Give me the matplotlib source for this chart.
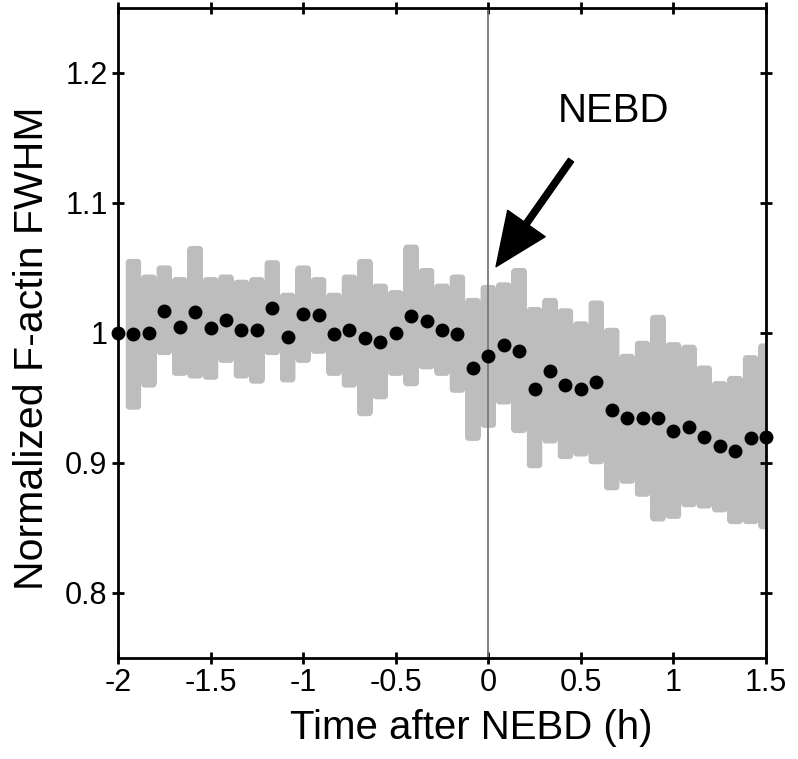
import numpy as np
import matplotlib.pyplot as plt
from matplotlib.patches import Polygon

plt.rcParams['font.family'] = ['Liberation Sans', 'DejaVu Sans']

# time after NEBD (h), one frame every 5 min
time_h = np.arange(43) / 12.0 - 2.0

fwhm_mean = [1.000, 0.999, 1.000, 1.017, 1.005, 1.016, 1.004, 1.010, 1.002, 1.002,
             1.019, 0.997, 1.015, 1.014, 0.999, 1.002, 0.996, 0.993, 1.000, 1.013,
             1.009, 1.002, 0.999, 0.973, 0.982, 0.991, 0.986, 0.957, 0.971, 0.960,
             0.957, 0.962, 0.941, 0.935, 0.935, 0.935, 0.925, 0.928, 0.920, 0.913,
             0.909, 0.919, 0.920]

fwhm_upper = [1.000, 1.057, 1.045, 1.052, 1.043, 1.067, 1.043, 1.045, 1.041, 1.043,
              1.056, 1.031, 1.052, 1.043, 1.031, 1.045, 1.057, 1.038, 1.033, 1.068,
              1.050, 1.038, 1.045, 1.027, 1.037, 1.039, 1.050, 1.020, 1.027, 1.019,
              1.009, 1.025, 1.004, 0.984, 0.994, 1.014, 0.993, 0.991, 0.975, 0.963,
              0.967, 0.983, 0.992]

fwhm_lower = [1.000, 0.941, 0.958, 0.983, 0.967, 0.965, 0.964, 0.977, 0.965, 0.961,
              0.983, 0.962, 0.977, 0.984, 0.967, 0.958, 0.936, 0.949, 0.967, 0.959,
              0.972, 0.967, 0.954, 0.917, 0.927, 0.945, 0.923, 0.896, 0.915, 0.903,
              0.905, 0.899, 0.879, 0.884, 0.874, 0.855, 0.857, 0.866, 0.865, 0.862,
              0.853, 0.853, 0.849]

xticks = [-2, -1.5, -1, -0.5, 0, 0.5, 1, 1.5]
xticklabels = ['-2', '-1.5', '-1', '-0.5', '0', '0.5', '1', '1.5']
yticks = [0.8, 0.9, 1.0, 1.1, 1.2]
yticklabels = ['0.8', '0.9', '1', '1.1', '1.2']


def rounded_box(x0, x1, y0, y1, rx, ry, n=6):
    """Rectangle with elliptical corners, in data units"""
    a = np.linspace(0, np.pi / 2, n)
    corners = [(x1 - rx, y1 - ry, 0.0), (x0 + rx, y1 - ry, 0.5 * np.pi),
               (x0 + rx, y0 + ry, np.pi), (x1 - rx, y0 + ry, 1.5 * np.pi)]
    pts = []
    for cx, cy, start in corners:
        for t in a + start:
            pts.append((cx + rx * np.cos(t), cy + ry * np.sin(t)))
    return np.array(pts)


fig = plt.figure(figsize=(7.98, 7.59), dpi=100)
ax = fig.add_axes([118 / 798, 101 / 759, 648 / 798, 650 / 759])
ax.set_xlim(-2, 1.5)
ax.set_ylim(0.75, 1.25)

# grey spread, one bar per frame with slightly rounded ends
step = time_h[1] - time_h[0]
p0, p1 = ax.transData.transform([(0.0, 0.0), (1.0, 1.0)])
px_x, px_y = p1 - p0
rx, ry = 3.5 / px_x, 3.5 / px_y
lo = np.array(fwhm_lower)
hi = np.array(fwhm_upper)
ax.bar(time_h, np.clip(hi - lo - 2 * ry, 0, None), bottom=lo + ry, width=step,
       color='#bdbdbd', linewidth=0, zorder=1)
for t, l, h in zip(time_h, lo, hi):
    if h - l <= 2 * ry:
        continue
    ax.add_patch(Polygon(rounded_box(t - step / 2, t + step / 2, l, h, rx, ry),
                         closed=True, facecolor='#bdbdbd', edgecolor='none',
                         linewidth=0, zorder=1))

ax.axvline(0, color='#7a7a7a', linewidth=1.3, zorder=2)
ax.plot(time_h, fwhm_mean, 'o', color='black', markersize=9, zorder=3, clip_on=False)

ax.annotate('', xy=(0.042, 1.051), xytext=(0.447, 1.133),
            arrowprops=dict(facecolor='black', edgecolor='black',
                            width=4.5, headwidth=33, headlength=38, shrink=0))
ax.text(0.679, 1.171, 'NEBD', fontsize=29, ha='center', va='center')

ax.set_xticks(xticks)
ax.set_xticklabels(xticklabels)
ax.set_yticks(yticks)
ax.set_yticklabels(yticklabels)
ax.tick_params(labelsize=22, width=2, length=8, direction='inout')
ax.tick_params(top=True, right=True)
for s in ax.spines.values():
    s.set_linewidth(2)

ax.set_xlabel('Time after NEBD (h)', fontsize=29)
ax.xaxis.set_label_coords(0.5455, -0.078)
ax.set_ylabel('Normalized F-actin FWHM', fontsize=29.5)
ax.yaxis.set_label_coords(-0.103, 0.477)

fig.savefig('out.png', dpi=100)
